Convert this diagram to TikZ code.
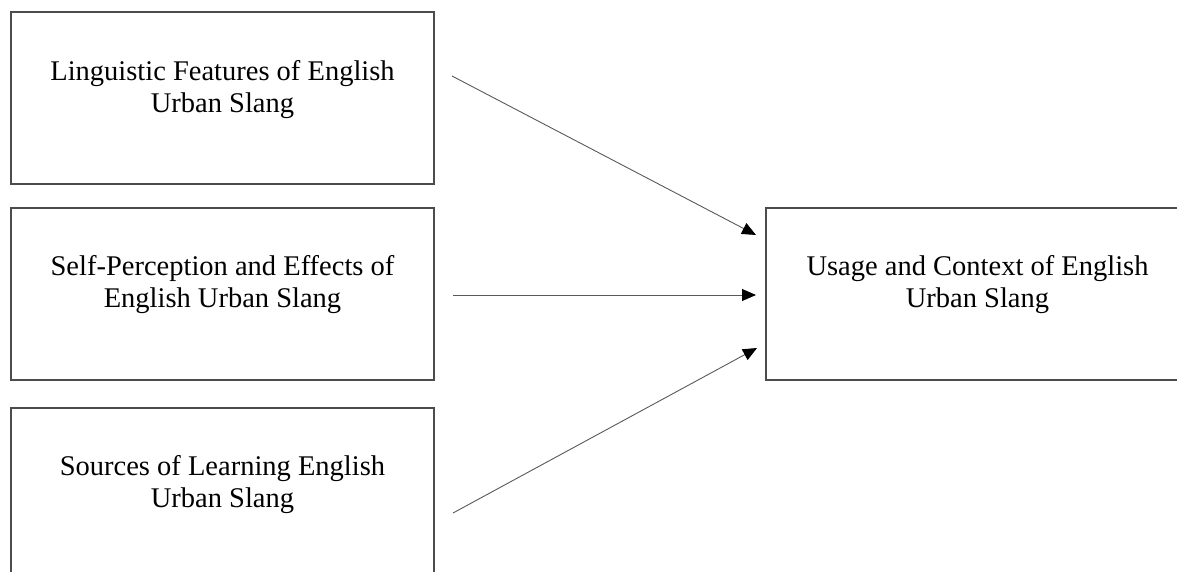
\documentclass[tikz,border=0pt]{standalone}
\usepackage{fontspec}
\setmainfont{Liberation Serif}
\usetikzlibrary{arrows.meta}
\begin{document}
\begin{tikzpicture}[x=1pt,y=-1pt,
  box/.style={draw=black!70,line width=1.1pt,minimum width=423pt,minimum height=172pt,inner sep=0pt},
  lbl/.style={align=center,inner sep=0pt,font=\fontsize{28.5}{32}\selectfont},
  conn/.style={draw=black!65,line width=0.9pt,-{Triangle[length=14pt,width=12pt,fill=black,color=black]}}]
\useasboundingbox (0,0) rectangle (1177,572);
\node[box] (b1) at (222.5,98) {};
\node[box] (b2) at (222.5,294) {};
\node[box] (b3) at (222.5,494) {};
\node[box] (b4) at (977.5,294) {};
\node[lbl] (t1) at (222.5,90) {Linguistic Features of English\\Urban Slang};
\node[lbl] (t2) at (222.5,285) {Self-Perception and Effects of\\English Urban Slang};
\node[lbl] (t3) at (222.5,485) {Sources of Learning English\\Urban Slang};
\node[lbl] (t4) at (977.5,285) {Usage and Context of English\\Urban Slang};
\coordinate (s1) at (452,76);
\coordinate (e1) at (756,235);
\coordinate (s2) at (453,295);
\coordinate (e2) at (756,295);
\coordinate (s3) at (453,513);
\coordinate (e3) at (757,348);
\draw[conn] (s1) -- (e1);
\draw[conn] (s2) -- (e2);
\draw[conn] (s3) -- (e3);
\end{tikzpicture}
\end{document}
